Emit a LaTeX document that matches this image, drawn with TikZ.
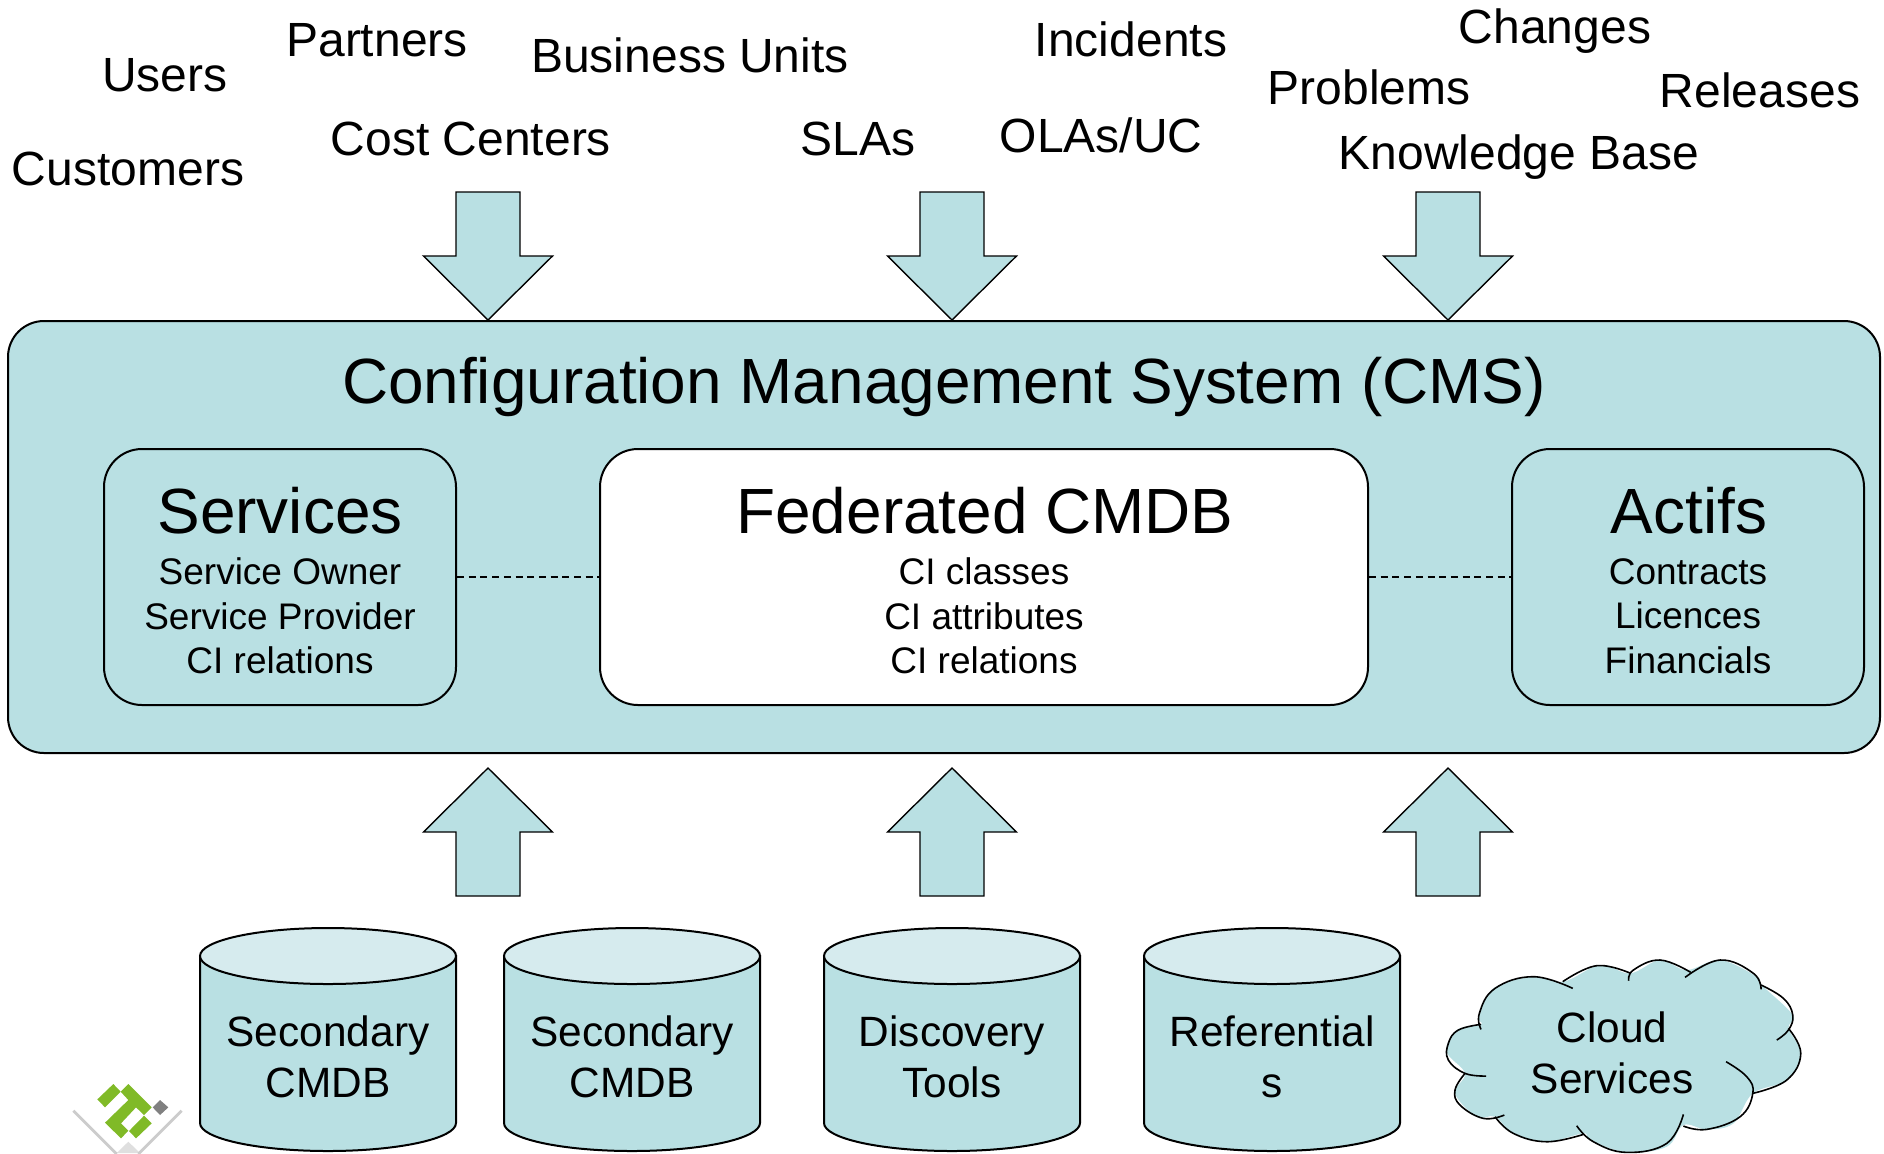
\documentclass[tikz,border=0pt]{standalone}
\usepackage{fontspec}
\setmainfont{Liberation Sans}
\definecolor{cmsfill}{HTML}{B9E0E3}
\definecolor{cmslight}{HTML}{D6EBEE}
\definecolor{logogreen}{HTML}{80BA27}
\tikzset{
	labeltext/.style={anchor=base,font=\fontsize{24}{29}\selectfont},
	cmsbox/.style={draw,line width=1pt,fill=cmsfill,rounded corners=18pt},
	innerbox/.style={cmsbox,rounded corners=19pt},
	bigtitle/.style={font=\fontsize{31.95}{38}\selectfont,inner sep=0pt},
	subtext/.style={align=center,inner sep=0pt,font=\fontsize{18.5}{22.3}\selectfont},
	cyltext/.style={align=center,inner sep=0pt,font=\fontsize{21.2}{25.5}\selectfont},
	linkline/.style={line width=0.7pt,dash pattern=on 3.5pt off 2.35pt},
	blockarrow/.style={draw,line width=0.7pt,fill=cmsfill,line join=miter},
}
\begin{document}
\begin{tikzpicture}[x=0.5pt,y=-0.5pt]
	\useasboundingbox (0,0) rectangle (1884,1153);

	% labels above the system
	\node[labeltext] (users) at (165,91) {Users};
	\node[labeltext] (partners) at (377,56) {Partners};
	\node[labeltext] (business) at (690,72) {Business Units};
	\node[labeltext] (customers) at (128,185) {Customers};
	\node[labeltext] (costcenters) at (471,155) {Cost Centers};
	\node[labeltext] (slas) at (858,155) {SLAs};
	\node[labeltext] (incidents) at (1131,56) {Incidents};
	\node[labeltext] (olas) at (1101,152) {OLAs/UC};
	\node[labeltext] (changes) at (1555,43) {Changes};
	\node[labeltext] (problems) at (1369,104) {Problems};
	\node[labeltext] (releases) at (1760,107) {Releases};
	\node[labeltext] (knowledge) at (1519,169) {Knowledge Base};

	% arrows in and out
	\foreach \cx in {488,952,1448} {
		\draw[blockarrow] (\cx-32,192) -- (\cx+32,192) -- (\cx+32,256) -- (\cx+64.5,256) -- (\cx,320)
			-- (\cx-64.5,256) -- (\cx-32,256) -- cycle;
		\draw[blockarrow] (\cx-32,896) -- (\cx+32,896) -- (\cx+32,832) -- (\cx+64.5,832) -- (\cx,768)
			-- (\cx-64.5,832) -- (\cx-32,832) -- cycle;
	}

	% the system and its three parts
	\node[cmsbox,minimum width=936pt,minimum height=216pt,anchor=north west] (cms) at (7,320) {};
	\node[bigtitle] (cmstitle) at (944,387) {Configuration Management System (CMS)};

	\node[innerbox,minimum width=176pt,minimum height=128pt,anchor=north west] (services) at (103,448) {};
	\node[innerbox,fill=white,minimum width=384pt,minimum height=128pt,anchor=north west] (federated) at (599,448) {};
	\node[innerbox,minimum width=176pt,minimum height=128pt,anchor=north west] (actifs) at (1511,448) {};

	\draw[linkline] (services.east) -- (federated.west);
	\draw[linkline] (federated.east) -- (actifs.west);

	\node[bigtitle] (servicestitle) at (280,511) {Services};
	\node[bigtitle] (federatedtitle) at (985,511) {Federated CMDB};
	\node[bigtitle] (actifstitle) at (1689,511) {Actifs};

	\node[subtext] (servicestext) at (280,616) {Service Owner\\Service Provider\\CI relations};
	\node[subtext] (federatedtext) at (984,616) {CI classes\\CI attributes\\CI relations};
	\node[subtext] (actifstext) at (1688,616) {Contracts\\Licences\\Financials};

	% cylinders along the bottom
	\foreach \nm/\cx/\txt in {secondarya/328/Secondary\\CMDB,secondaryb/632/Secondary\\CMDB,discovery/952/Discovery\\Tools,referentials/1272/Referential\\s} {
		\draw[line width=1pt,fill=cmsfill] (\cx-128,956) -- (\cx-128,1123)
			arc[start angle=180,end angle=0,x radius=128,y radius=28] -- (\cx+128,956) -- cycle;
		\draw[line width=1pt,fill=cmslight] (\cx,956) ellipse[x radius=128,y radius=28];
		\node[cyltext] (\nm) at (\cx,1057) {\txt};
	}

	% cloud, fill first and then each lobe
	\begin{scope}[shift={(1400,920)},x=0.1667pt,y=-0.1667pt,line width=0.8pt]
		\fill[cmsfill] plot[smooth cycle,tension=0.6] coordinates {(237,290) (280,205) (400,170) (490,185) (600,135) (690,160)
			(780,120) (860,150) (960,120) (1070,170) (1085,195) (1178,285) (1165,325) (1202,400) (1160,480) (1058,520)
			(1000,610) (920,628) (850,615) (800,680) (680,697) (570,660) (550,640) (440,665) (340,640) (285,590) (230,590) (165,520)
			(195,460) (140,395) (170,330) (243,313)};
		\draw plot[smooth,tension=0.7] coordinates {(243,328) (238,280) (285,205) (400,170) (518,205)};
		\draw plot[smooth,tension=0.7] coordinates {(488,185) (590,137) (692,160)};
		\draw plot[smooth,tension=0.7] coordinates {(686,182) (700,150) (780,120) (872,157)};
		\draw plot[smooth,tension=0.7] coordinates {(855,172) (960,120) (1060,160) (1083,208)};
		\draw plot[smooth,tension=0.7] coordinates {(1083,195) (1150,235) (1178,285) (1165,330) (1130,360)};
		\draw plot[smooth,tension=0.7] coordinates {(1165,325) (1202,400) (1160,480) (1058,520)};
		\draw plot[smooth,tension=0.7] coordinates {(978,425) (1040,470) (1058,520) (1020,590) (920,628) (850,618)};
		\draw plot[smooth,tension=0.7] coordinates {(850,583) (800,670) (680,697) (580,665) (530,617)};
		\draw plot[smooth,tension=0.7] coordinates {(550,643) (440,665) (340,640) (285,590)};
		\draw plot[smooth,tension=0.7] coordinates {(313,585) (250,595) (180,555) (165,510) (195,460)};
		\draw plot[smooth,tension=0.7] coordinates {(258,468) (195,460) (145,420) (145,370) (175,330) (243,313)};
	\end{scope}
	\node[cyltext] (cloud) at (1612,1053) {Cloud\\Services};

	% logo
	\begin{scope}[shift={(60,1070)},x=0.1667pt,y=-0.1667pt]
		\clip (0,0) rectangle (400,249);
		\fill[gray!25] (205,215) -- (170,249) -- (240,249) -- cycle;
		\draw[gray!40,line width=1.4pt] (40,122) -- (170,252);
		\draw[gray!40,line width=1.4pt] (365,122) -- (235,252);
		\fill[gray] (300,90) -- (325,112) -- (300,135) -- (278,112) -- cycle;
		\fill[logogreen] (160,42) -- (182,65) -- (135,112) -- (112,88) -- cycle;
		\fill[logogreen] (205,42) -- (275,112) -- (252,135) -- (228,112) -- (183,160) -- (205,182)
			-- (183,205) -- (135,158) -- (205,90) -- (182,65) -- cycle;
		\fill[logogreen] (252,137) -- (275,160) -- (228,205) -- (207,183) -- cycle;
	\end{scope}
\end{tikzpicture}
\end{document}
